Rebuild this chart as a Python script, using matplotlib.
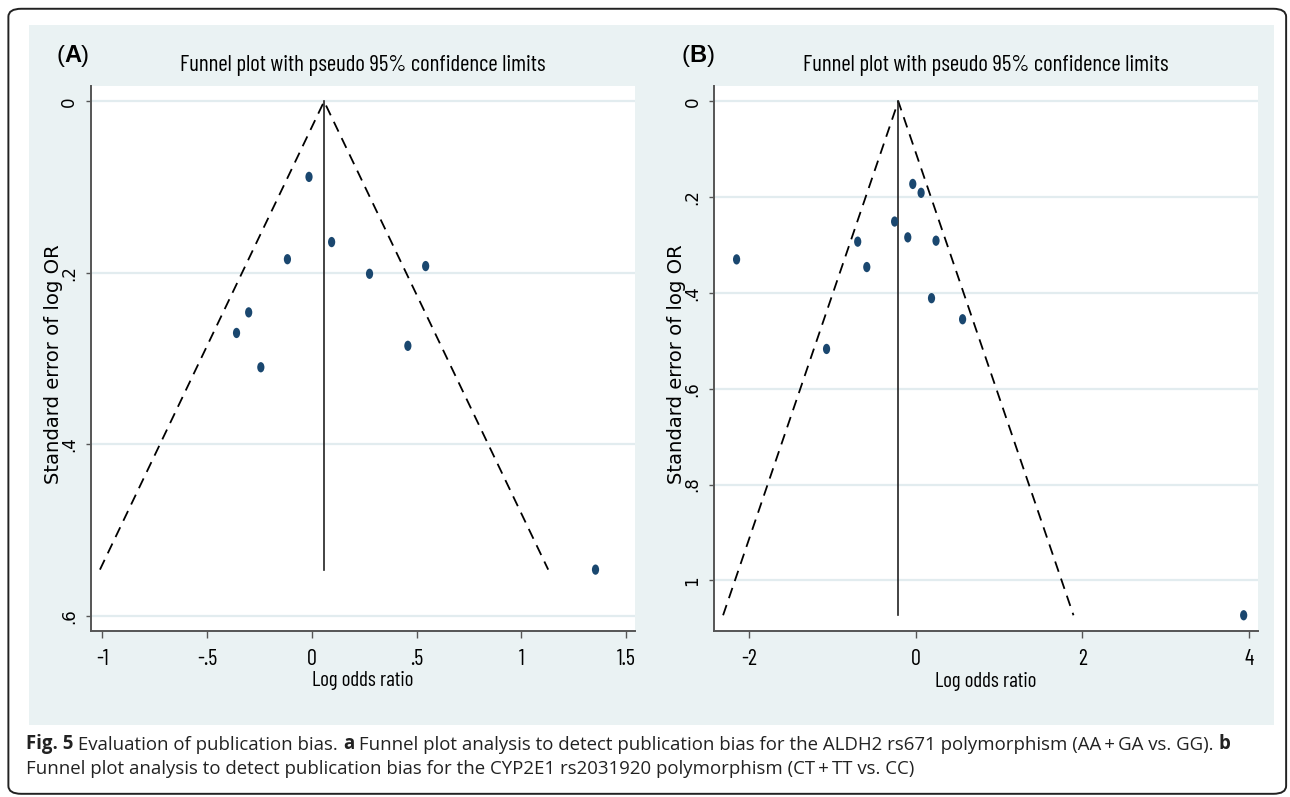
import matplotlib
matplotlib.use('Agg')
import matplotlib.pyplot as plt
import numpy as np
from matplotlib.patches import Rectangle, FancyBboxPatch
from matplotlib.markers import MarkerStyle
from matplotlib.transforms import Affine2D

# Panel A: ALDH2 rs671 (AA+GA vs. GG)
a_logor = [-0.014, 0.094, -0.117, 0.275, 0.543, -0.302, -0.360, -0.244, 0.458, 1.354]
a_se = [0.088, 0.164, 0.184, 0.201, 0.192, 0.246, 0.270, 0.310, 0.285, 0.546]
a_pooled = 0.058
a_xticks = [-1, -0.5, 0, 0.5, 1, 1.5]
a_xticklabels = ['-1', '-.5', '0', '.5', '1', '1.5']
a_yticks = [0, 0.2, 0.4, 0.6]
a_yticklabels = ['0', '.2', '.4', '.6']

# Panel B: CYP2E1 rs2031920 (CT+TT vs. CC)
b_logor = [-0.035, 0.065, -0.253, -0.095, 0.244, -0.696, -0.587, -2.150, 0.190, 0.563, -1.070, 3.937]
b_se = [0.1725, 0.191, 0.251, 0.284, 0.291, 0.293, 0.346, 0.330, 0.411, 0.455, 0.517, 1.073]
b_pooled = -0.209
b_xticks = [-2, 0, 2, 4]
b_xticklabels = ['-2', '0', '2', '4']
b_yticks = [0, 0.2, 0.4, 0.6, 0.8, 1.0]
b_yticklabels = ['0', '.2', '.4', '.6', '.8', '1']

title = 'Funnel plot with pseudo 95% confidence limits'
# caption pieces: (text, bold)
cap1 = [('Fig. 5', True), (' Evaluation of publication bias. ', False), ('a', True),
        (' Funnel plot analysis to detect publication bias for the ALDH2 rs671 polymorphism '
         '(AA\u2009+\u2009GA vs. GG). ', False), ('b', True)]
cap2 = 'Funnel plot analysis to detect publication bias for the CYP2E1 rs2031920 polymorphism (CT\u2009+\u2009TT vs. CC)'

narrow = ['Barlow Condensed', 'Archivo Narrow', 'Liberation Sans', 'DejaVu Sans']
arial = ['Liberation Sans', 'DejaVu Sans']
wide = ['DejaVu Sans']

bg = '#eaf2f3'
gridc = '#e2ecef'
navy = '#1a476f'

fig = plt.figure(figsize=(12.9, 7.97), dpi=100)
fig.patch.set_facecolor('white')
renderer = fig.canvas.get_renderer()


def fit(txt, target, vertical=False):
    bb = txt.get_window_extent(renderer)
    size = bb.height if vertical else bb.width
    txt.set_fontsize(txt.get_fontsize() * target / size)


# bluish graph region and outer frame
fig.patches.append(Rectangle((0.0225, 0.0903), 0.9651, 0.8783, transform=fig.transFigure,
                             facecolor=bg, edgecolor='none', zorder=-5))
fig.patches.append(FancyBboxPatch((0.0065, 0.004), 0.9905, 0.985, transform=fig.transFigure,
                                  boxstyle='round,pad=0,rounding_size=0.01', facecolor='none',
                                  edgecolor='#222222', linewidth=1.4, zorder=5))

ell = MarkerStyle('o', transform=Affine2D().scale(0.7, 1.0))


def funnel(ax, logor, se, pooled, xlim, ylim, xticks, xtl, yticks, ytl, tag, tagx):
    ax.set_facecolor('white')
    for yv in yticks:
        ax.axhline(yv, color=gridc, lw=1.6, zorder=1)
    maxse = max(se)
    ax.plot([pooled - 1.96 * maxse, pooled, pooled + 1.96 * maxse], [maxse, 0, maxse],
            color='black', lw=1.3, ls=(0, (6, 4)), zorder=2)
    ax.plot([pooled, pooled], [0, maxse], color='#222222', lw=1.2, zorder=2)
    ax.scatter(logor, se, s=55, marker=ell, color=navy, edgecolors='none', zorder=3)
    ax.set_xlim(xlim)
    ax.set_ylim(ylim)
    ax.set_xticks(xticks)
    ax.set_xticklabels(xtl, fontfamily=narrow, fontsize=16)
    ax.set_yticks(yticks)
    ax.set_yticklabels(ytl, fontfamily=wide, fontsize=12, rotation=90, va='center')
    ax.tick_params(axis='x', length=5, width=1.0, color='#555555', pad=8.5)
    ax.tick_params(axis='y', length=3.8, width=1.0, color='#555555', pad=5)
    for s in ['top', 'right']:
        ax.spines[s].set_visible(False)
    for s in ['left', 'bottom']:
        ax.spines[s].set_color('#555555')
        ax.spines[s].set_linewidth(1.4)
    xl = ax.set_xlabel('Log odds ratio', fontfamily=narrow, fontsize=15, va='center')
    ax.xaxis.set_label_coords(0.5, -0.0927)
    fit(xl, 102)
    yl = ax.set_ylabel('Standard error of log OR', fontfamily=wide, fontsize=14, va='center')
    ax.yaxis.set_label_coords(-0.069, 0.49)
    fit(yl, 242, vertical=True)
    tt = ax.set_title(title, fontfamily=narrow, fontsize=18, y=1.037, va='center', pad=0)
    fit(tt, 366)
    t1 = fig.text(tagx, 0.9297, '(', fontfamily=arial, fontsize=17, va='center')
    t2 = ax.annotate(tag, xy=(1, 0), xycoords=t1, va='bottom', fontfamily=arial,
                     fontsize=17, fontweight='bold', annotation_clip=False)
    ax.annotate(')', xy=(1, 0), xycoords=t2, va='bottom', fontfamily=arial, fontsize=17,
                annotation_clip=False)


axA = fig.add_axes([0.0702, 0.2089, 0.4218, 0.6832])
funnel(axA, a_logor, a_se, a_pooled, (-1.057, 1.541), (0.617, -0.018),
       a_xticks, a_xticklabels, a_yticks, a_yticklabels, 'A', 0.0435)

axB = fig.add_axes([0.5533, 0.2088, 0.4217, 0.6833])
funnel(axB, b_logor, b_se, b_pooled, (-2.424, 4.106), (1.105, -0.032),
       b_xticks, b_xticklabels, b_yticks, b_yticklabels, 'B', 0.5285)

# caption, second line sets the size
c2 = fig.text(0.0202, 0.035, cap2, fontfamily='Open Sans', fontsize=12, va='center', color='#222222')
fit(c2, 886)
csize = c2.get_fontsize()
prev = None
for txt, bold in cap1:
    w = 'bold' if bold else 'normal'
    if prev is None:
        prev = fig.text(0.0202, 0.066, txt, fontfamily='Open Sans', fontsize=csize,
                        fontweight=w, va='center', color='#222222')
    else:
        prev = axA.annotate(txt, xy=(1, 0), xycoords=last, va='bottom', fontfamily='Open Sans',
                            fontsize=csize, fontweight=w, color='#222222', annotation_clip=False)
    last = prev

fig.savefig('out.png', dpi=100)
